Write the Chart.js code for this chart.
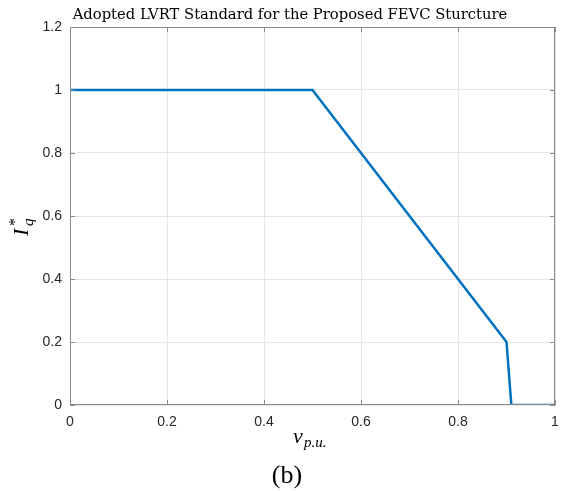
<!DOCTYPE html>
<html>
<head>
<meta charset="utf-8">
<script src="https://cdn.jsdelivr.net/npm/chart.js@4"></script>
<style>
  html, body { margin: 0; padding: 0; background: #fff; }
  #wrap { width: 563px; height: 491px; position: relative; }
</style>
</head>
<body>
<div id="wrap"><canvas id="lvrt"></canvas></div>
<script>
const voltage = [0, 0.5, 0.9, 0.91, 1];
const iqRef = [1, 1, 0.2, 0, 0];
const xTicks = [0, 0.2, 0.4, 0.6, 0.8, 1];
const yTicks = [0, 0.2, 0.4, 0.6, 0.8, 1, 1.2];
const titleText = "Adopted LVRT Standard for the Proposed FEVC Sturcture";

// box, inward ticks and the LaTeX-ish labels drawn on top of the chart
const matlabFrame = {
  id: "matlabFrame",
  afterDraw(chart) {
    const { ctx, chartArea: a, scales } = chart;
    ctx.save();
    ctx.strokeStyle = "#8a8a8a";
    ctx.lineWidth = 1;
    ctx.strokeRect(a.left + 0.5, a.top + 0.5, a.right - a.left - 1, a.bottom - a.top - 1);
    ctx.beginPath();
    xTicks.forEach(t => {
      const px = Math.round(scales.x.getPixelForValue(t)) + 0.5;
      ctx.moveTo(px, a.bottom); ctx.lineTo(px, a.bottom - 5);
      ctx.moveTo(px, a.top); ctx.lineTo(px, a.top + 5);
    });
    yTicks.forEach(t => {
      const py = Math.round(scales.y.getPixelForValue(t)) + 0.5;
      ctx.moveTo(a.left, py); ctx.lineTo(a.left + 5, py);
      ctx.moveTo(a.right, py); ctx.lineTo(a.right - 5, py);
    });
    ctx.stroke();

    ctx.fillStyle = "#000";
    // title, sized to span the same width as the original
    ctx.font = "15px 'DejaVu Serif'";
    const w = ctx.measureText(titleText).width;
    const size = 15 * 435 / w;
    ctx.font = size.toFixed(2) + "px 'DejaVu Serif'";
    ctx.textAlign = "center";
    ctx.textBaseline = "alphabetic";
    ctx.fillText(titleText, 290, 19);

    // x label v_{p.u.}
    ctx.textAlign = "left";
    ctx.font = "italic 22px 'Liberation Serif'";
    ctx.fillText("v", 293, 443);
    ctx.font = "italic 15px 'Liberation Serif'";
    ctx.fillText("p.u.", 304, 447);

    // (b)
    ctx.textAlign = "center";
    ctx.font = "26px 'Liberation Serif'";
    ctx.fillText("(b)", 287, 483);

    // y label I_q^*
    ctx.translate(28, 236);
    ctx.rotate(-Math.PI / 2);
    ctx.textAlign = "left";
    ctx.font = "italic 22px 'Liberation Serif'";
    ctx.fillText("I", 0, 0);
    ctx.font = "italic 15px 'Liberation Serif'";
    ctx.fillText("q", 10, 5);
    ctx.font = "16px 'Liberation Serif'";
    ctx.fillText("*", 10, -8);
    ctx.restore();
  }
};

new Chart(document.getElementById("lvrt"), {
  type: "line",
  data: {
    datasets: [{
      data: voltage.map((v, i) => ({ x: v, y: iqRef[i] })),
      borderColor: "#0072BD",
      borderWidth: 2.5,
      pointRadius: 0,
      tension: 0,
      fill: false
    }]
  },
  options: {
    responsive: true,
    maintainAspectRatio: false,
    animation: false,
    layout: { padding: { left: 0, top: 27, right: 8, bottom: 0 } },
    plugins: { legend: { display: false }, tooltip: { enabled: false }, title: { display: false } },
    scales: {
      x: {
        type: "linear",
        min: 0,
        max: 1,
        afterBuildTicks: s => { s.ticks = xTicks.map(v => ({ value: v })); },
        afterFit: s => { s.height = 86; s.paddingLeft = 0; s.paddingRight = 0; },
        ticks: { color: "#262626", font: { family: "'Liberation Sans'", size: 14 }, padding: 9, callback: v => String(v) },
        grid: { color: "#e6e6e6", drawTicks: false },
        border: { display: false }
      },
      y: {
        type: "linear",
        min: 0,
        max: 1.2,
        afterBuildTicks: s => { s.ticks = yTicks.map(v => ({ value: v })); },
        afterFit: s => { s.width = 70; s.paddingTop = 0; s.paddingBottom = 0; },
        ticks: { color: "#262626", font: { family: "'Liberation Sans'", size: 14 }, padding: 8, callback: v => String(Math.round(v * 10) / 10) },
        grid: { color: "#e6e6e6", drawTicks: false },
        border: { display: false }
      }
    }
  },
  plugins: [matlabFrame]
});
</script>
</body>
</html>
